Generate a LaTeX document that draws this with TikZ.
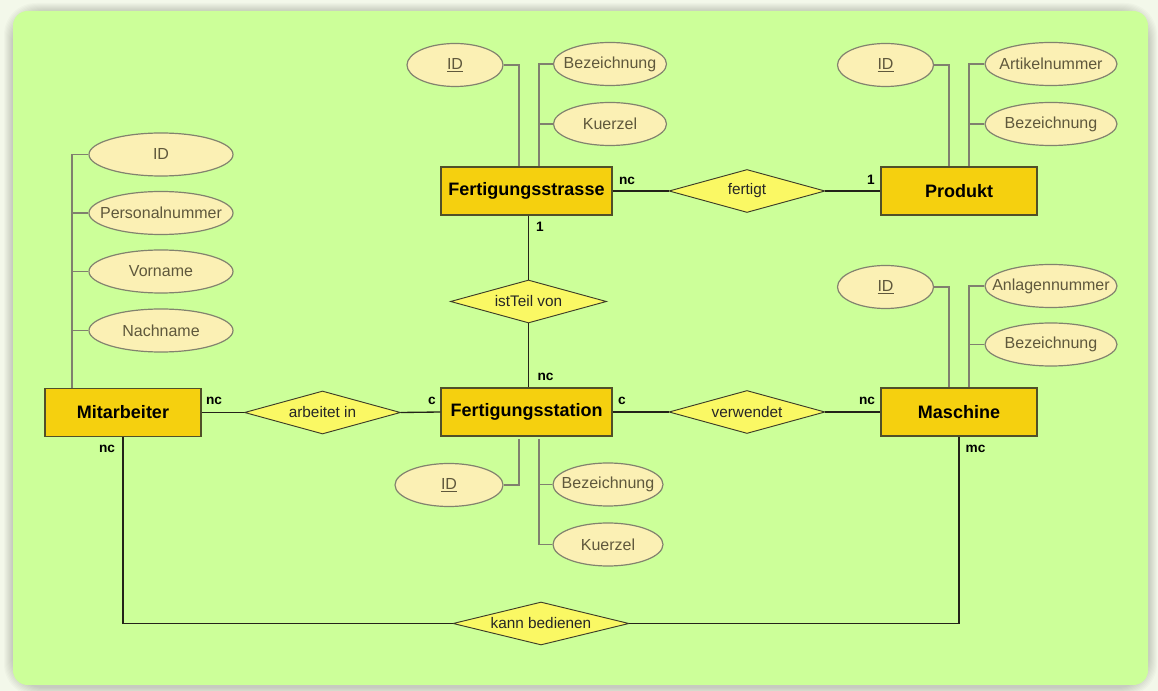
\documentclass[tikz,border=0pt]{standalone}
\usepackage{fontspec}
\setmainfont{Liberation Sans}
\usetikzlibrary{shapes.geometric,calc}
\definecolor{outerbg}{RGB}{243,248,234}
\definecolor{canvas}{RGB}{204,255,153}
\definecolor{entfill}{RGB}{245,208,15}
\definecolor{entdraw}{RGB}{80,80,40}
\definecolor{attfill}{RGB}{251,240,180}
\definecolor{attdraw}{RGB}{130,130,110}
\definecolor{atttext}{RGB}{95,88,60}
\definecolor{relfill}{RGB}{250,248,100}
\definecolor{reldraw}{RGB}{60,60,40}
\definecolor{conn}{RGB}{35,35,25}
\definecolor{attline}{RGB}{128,128,110}
\newcommand{\attxt}[1]{\makebox[0pt]{#1}}
\tikzset{
  entity/.style={draw=entdraw, fill=entfill, line width=1.1pt, minimum width=117pt, minimum height=36pt, inner sep=0pt, font=\fontsize{13.5}{16}\selectfont\bfseries, text=black},
  attrib/.style={ellipse, draw=attdraw, fill=attfill, line width=0.9pt, minimum width=72pt, minimum height=32.25pt, inner sep=0pt, font=\fontsize{12}{14}\selectfont, text=atttext},
  relation/.style={diamond, draw=reldraw, fill=relfill, line width=0.7pt, minimum width=117pt, minimum height=32.25pt, aspect=3.6, inner sep=0pt, font=\fontsize{11.5}{14}\selectfont, text=black!85},
  conline/.style={draw=conn, line width=1pt},
  attline/.style={draw=attline, line width=1.1pt},
  card/.style={font=\fontsize{10.25}{12}\selectfont\bfseries, text=black, inner sep=0pt}
}
\begin{document}
\begin{tikzpicture}[x=0.75pt,y=-0.75pt]
\useasboundingbox (0,0) rectangle (1158,691);
\fill[outerbg] (0,0) rectangle (1158,691);
\foreach \i in {1,...,9}{
  \fill[black, opacity=0.02, rounded corners=24pt] ({13-\i},{12-\i}) rectangle ({1148+\i},{687+\i});
}
\fill[canvas, rounded corners=11pt] (13,11) rectangle (1148,685);

% entities
\node[entity, minimum width=128.25pt] (fs) at (526.5,191) {Fertigungsstrasse};
\node[entity] (pr) at (959,191) {Produkt};
\node[entity] (ma) at (123,412.5) {Mitarbeiter};
\node[entity, minimum width=128.25pt] (fst) at (526.5,412) {Fertigungsstation};
\node[entity] (mas) at (959,412) {Maschine};

% relations
\node[relation] (fe) at (747,191) {fertigt};
\node[relation] (it) at (528.5,301.5) {istTeil von};
\node[relation] (ai) at (322.5,412.5) {arbeitet in};
\node[relation] (vw) at (747,412) {verwendet};
\node[relation, minimum width=132pt] (kb) at (541,623.5) {kann bedienen};

% attributes Fertigungsstrasse
\node[attrib] (fsID) at (455,65) {\attxt{\underline{ID}}};
\node[attrib, minimum width=84.75pt] (fsBez) at (610,64) {\attxt{Bezeichnung}};
\node[attrib, minimum width=84.75pt] (fsKue) at (610,124) {\attxt{Kuerzel}};
% attributes Produkt
\node[attrib] (prID) at (885.5,65) {\attxt{\underline{ID}}};
\node[attrib, minimum width=99pt] (prArt) at (1051,64) {\attxt{Artikelnummer}};
\node[attrib, minimum width=99pt] (prBez) at (1051,124) {\attxt{Bezeichnung}};
% attributes Mitarbeiter
\node[attrib, minimum width=108pt] (maID) at (161,154.5) {\attxt{ID}};
\node[attrib, minimum width=108pt] (maPer) at (161,213) {\attxt{Personalnummer}};
\node[attrib, minimum width=108pt] (maVor) at (161,271.5) {\attxt{Vorname}};
\node[attrib, minimum width=108pt] (maNac) at (161,330.5) {\attxt{Nachname}};
% attributes Maschine
\node[attrib] (masID) at (885.5,287) {\attxt{\underline{ID}}};
\node[attrib, minimum width=99pt] (masAnl) at (1051,286) {\attxt{Anlagennummer}};
\node[attrib, minimum width=99pt] (masBez) at (1051,344.5) {\attxt{Bezeichnung}};
% attributes Fertigungsstation
\node[attrib, minimum width=81pt] (fstID) at (449,485) {\attxt{\underline{ID}}};
\node[attrib, minimum width=82.5pt] (fstBez) at (608,484.5) {\attxt{Bezeichnung}};
\node[attrib, minimum width=82.5pt] (fstKue) at (608,544.5) {\attxt{Kuerzel}};

% attribute lines
\draw[attline] (fsID.east) -| ($(fs.north)+(-7.5,0)$);
\draw[attline] (fsBez.west) -| ($(fs.north)+(12.5,0)$);
\draw[attline] (fsKue.west) -| ($(fs.north)+(12.5,0)$);
\draw[attline] (prID.east) -| ($(pr.north)+(-10,0)$);
\draw[attline] (prArt.west) -| ($(pr.north)+(10,0)$);
\draw[attline] (prBez.west) -| ($(pr.north)+(10,0)$);
\draw[attline] (masID.east) -| ($(mas.north)+(-10,0)$);
\draw[attline] (masAnl.west) -| ($(mas.north)+(10,0)$);
\draw[attline] (masBez.west) -| ($(mas.north)+(10,0)$);
\draw[attline] (maID.west) -| ($(ma.north)+(-51,0)$);
\draw[attline] (maPer.west) -| ($(ma.north)+(-51,0)$);
\draw[attline] (maVor.west) -| ($(ma.north)+(-51,0)$);
\draw[attline] (maNac.west) -| ($(ma.north)+(-51,0)$);
\draw[attline] (fstID.east) -| ($(fst.south)+(-7.5,2)$);
\draw[attline] (fstBez.west) -| ($(fst.south)+(12.5,2)$);
\draw[attline] (fstKue.west) -| ($(fst.south)+(12.5,2)$);

% relation lines
\draw[conline] (fs.east) -- (fe.west);
\draw[conline] (fe.east) -- (pr.west);
\draw[conline] (fs.south -| it.north) -- (it.north);
\draw[conline] (it.south) -- (fst.north -| it.south);
\draw[conline] (ma.east) -- (ai.west);
\draw[conline] (ai.east) -- (fst.west);
\draw[conline] (fst.east) -- (vw.west);
\draw[conline] (vw.east) -- (mas.west);
\draw[conline] (ma.south) |- (kb.west);
\draw[conline] (kb.east) -| (mas.south);

% cardinalities
\node[card] (c1) at (627,181) {nc};
\node[card] (c2) at (871,180) {1};
\node[card] (c3) at (540,227) {1};
\node[card] (c4) at (545.5,377) {nc};
\node[card] (c5) at (214,401) {nc};
\node[card] (c6) at (432,401) {c};
\node[card] (c7) at (622,401) {c};
\node[card] (c8) at (867,401) {nc};
\node[card] (c9) at (107,449) {nc};
\node[card] (c10) at (975.5,449) {mc};
\end{tikzpicture}
\end{document}
